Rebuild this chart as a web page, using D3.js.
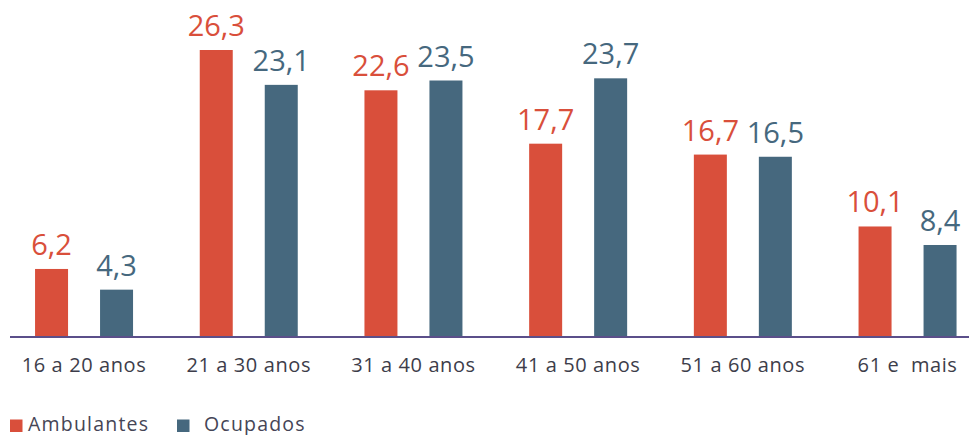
<!DOCTYPE html>
<html><head><meta charset="utf-8">
<script src="https://cdn.jsdelivr.net/npm/d3@7"></script>
<style>body{margin:0;background:#fff}svg{display:block}</style>
</head><body><svg id="c" width="969" height="435"></svg>
<script>
const categories = ["16 a 20 anos","21 a 30 anos","31 a 40 anos","41 a 50 anos","51 a 60 anos","61 e  mais"];
const seriesNames = ["Ambulantes","Ocupados"];
const ambulantes = [6.2,26.3,22.6,17.7,16.7,10.1];
const ocupados = [4.3,23.1,23.5,23.7,16.5,8.4];
const colors = ["#d94f3b","#46687e"];

const svg = d3.select("#c");
const font = "'Open Sans', sans-serif";
const baseY = 336.5;
const y = d3.scaleLinear().domain([0, 26.3]).range([baseY, 50]);
const x0 = d3.scaleBand().domain(categories).range([1.7, 989.9]).paddingInner(0.405).paddingOuter(0.2025);
const x1 = d3.scaleBand().domain(seriesNames).range([0, x0.bandwidth()]).paddingInner(0.4923).paddingOuter(0);

const data = categories.map((c,i)=>({cat:c, vals:[ambulantes[i], ocupados[i]]}));

const g = svg.selectAll("g.grp").data(data).join("g").attr("class","grp")
  .attr("transform", d=>`translate(${x0(d.cat)},0)`);

g.selectAll("rect").data(d=>d.vals.map((v,j)=>({s:seriesNames[j], v, j})))
  .join("rect")
  .attr("x", d=>x1(d.s)).attr("width", x1.bandwidth())
  .attr("y", d=>y(d.v)).attr("height", d=>baseY - y(d.v))
  .attr("fill", d=>colors[d.j]);

g.selectAll("text.val").data(d=>d.vals.map((v,j)=>({s:seriesNames[j], v, j})))
  .join("text").attr("class","val")
  .attr("x", d=>x1(d.s)+x1.bandwidth()/2).attr("y", d=>y(d.v)-14)
  .attr("text-anchor","middle")
  .attr("font-family", font).attr("font-size", 29)
  .attr("fill", d=>colors[d.j])
  .text(d=>d3.format(".1f")(d.v).replace(".", ","));

// axis
const xAxis = d3.axisBottom(x0).tickSize(0).tickPadding(0);
const ax = svg.append("g").attr("transform", `translate(0,${baseY})`).call(xAxis);
ax.select(".domain").remove();
ax.append("line").attr("x1",10).attr("x2",969).attr("y1",0.5).attr("y2",0.5)
  .attr("stroke","#5b4f8a").attr("stroke-width",1.8);
ax.selectAll(".tick text").attr("font-family", font).attr("font-size", 20)
  .attr("letter-spacing", 0.6)
  .attr("fill","#3d3d4a").attr("dy", null).attr("y", 35).style("white-space","pre");

// legend
const leg = svg.append("g");
const legX = [10, 177];
const legTX = [28, 204];
seriesNames.forEach((s,i)=>{
  leg.append("rect").attr("x", legX[i]).attr("y", 419.5).attr("width", 12.5).attr("height", 12.5).attr("fill", colors[i]);
  leg.append("text").attr("x", legTX[i]).attr("y", 430.5).attr("font-family", font).attr("font-size", 19.5)
    .attr("letter-spacing", 1.2)
    .attr("fill","#454556").text(s);
});
</script></body></html>
